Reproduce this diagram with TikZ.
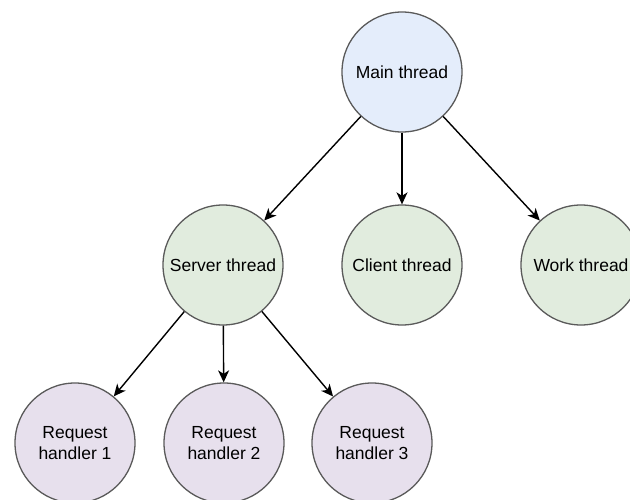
\documentclass[tikz,border=0pt]{standalone}
\usepackage{fontspec}
\setmainfont{Liberation Sans}
\usetikzlibrary{arrows.meta}
\definecolor{mainfill}{HTML}{E4EDFB}
\definecolor{threadfill}{HTML}{E1ECDE}
\definecolor{handlerfill}{HTML}{E7E0ED}
\definecolor{rim}{HTML}{5A5A5A}
\tikzset{
  bubble/.style={circle, draw=rim, line width=1.3pt, minimum size=120pt, inner sep=0pt,
    align=center, font=\fontsize{17.5}{21.5}\selectfont},
  mainbubble/.style={bubble, fill=mainfill},
  threadbubble/.style={bubble, fill=threadfill},
  handlerbubble/.style={bubble, fill=handlerfill},
  link/.style={draw=black, line width=1.4pt, -{Stealth[length=12pt, width=11pt, inset=3.5pt]}}
}
\begin{document}
\begin{tikzpicture}[x=1pt, y=-1pt]
  \useasboundingbox (0,0) rectangle (630,500);
  \begin{scope}
    \clip (0,0) rectangle (630,500);
    \node[mainbubble] (main) at (402,72) {Main thread};
    \node[threadbubble] (server) at (223,265) {Server thread};
    \node[threadbubble] (client) at (402,265) {Client thread};
    \node[threadbubble] (work) at (581,265) {Work thread};
    \node[handlerbubble] (h1) at (75,443) {Request\\handler 1};
    \node[handlerbubble] (h2) at (224,443) {Request\\handler 2};
    \node[handlerbubble] (h3) at (372,443) {Request\\handler 3};
    \draw[link] (main) -- (server);
    \draw[link] (main) -- (client);
    \draw[link] (main) -- (work);
    \draw[link] (server) -- (h1);
    \draw[link] (server) -- (h2);
    \draw[link] (server) -- (h3);
  \end{scope}
\end{tikzpicture}
\end{document}
